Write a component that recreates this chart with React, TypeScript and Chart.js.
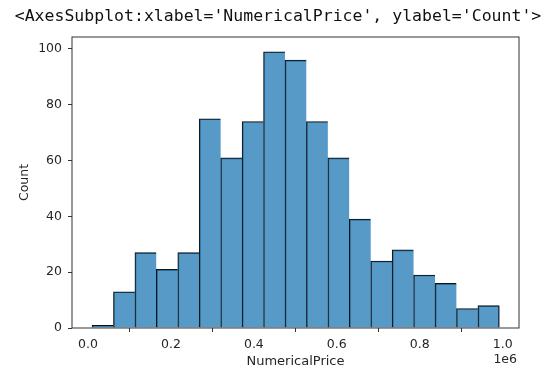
import { useEffect, useRef } from "react";
import { Chart, registerables } from "chart.js";

Chart.register(...registerables);

// Histogram bin edges (NumericalPrice) and counts per bin
const binEdges = [
  9700, 61400, 113100, 164800, 216500, 268200, 319900, 371600, 423300, 475000,
  526700, 578400, 630100, 681800, 733500, 785200, 836900, 888600, 940300, 992000,
];
const counts = [1, 13, 27, 21, 27, 75, 61, 74, 99, 96, 74, 61, 39, 24, 28, 19, 16, 7, 8];
const xTicks = [0, 200000, 400000, 600000, 800000, 1000000];
const yTicks = [0, 20, 40, 60, 80, 100];

const headerText = "<AxesSubplot:xlabel='NumericalPrice', ylabel='Count'>";
const xLabel = "NumericalPrice";
const yLabel = "Count";
const offsetText = "1e6";

const W = 555;
const H = 370;
const AXIS_COLOR = "#333";
const TEXT_COLOR = "#262626";
const TICK_FONT = { family: "'DejaVu Sans', sans-serif", size: 12.5 };
const LABEL_FONT = { family: "'DejaVu Sans', sans-serif", size: 13 };

const framePlugin = {
  id: "frame",
  afterDatasetsDraw(chart: any) {
    const { ctx, chartArea } = chart;
    const { left, right, top, bottom } = chartArea;
    ctx.save();
    ctx.strokeStyle = AXIS_COLOR;
    ctx.lineWidth = 1;
    ctx.strokeRect(left, top, right - left, bottom - top);
    ctx.restore();
  },
  afterDraw(chart: any) {
    const { ctx, chartArea } = chart;
    ctx.save();
    // header line above the axes
    ctx.fillStyle = "#111";
    ctx.font = "16.5px 'DejaVu Sans Mono', monospace";
    ctx.textAlign = "center";
    ctx.textBaseline = "middle";
    ctx.fillText(headerText, 278, 17);
    // scale offset text for the x axis
    ctx.fillStyle = TEXT_COLOR;
    ctx.font = "12.5px 'DejaVu Sans', sans-serif";
    ctx.textAlign = "right";
    ctx.fillText(offsetText, chartArea.right - 2, 360);
    ctx.restore();
  },
};

export default function App() {
  const canvasRef = useRef<HTMLCanvasElement | null>(null);

  useEffect(() => {
    const canvas = canvasRef.current;
    if (!canvas) return;
    const points = counts.map((c, i) => ({
      x: (binEdges[i] + binEdges[i + 1]) / 2,
      y: c,
    }));
    const last = counts.length - 1;
    const chart = new Chart(canvas, {
      type: "bar",
      data: {
        datasets: [
          {
            data: points as any,
            backgroundColor: "rgba(31,119,180,0.75)",
            borderColor: "#111",
            borderWidth: ((ctx: any) => ({
              top: 1,
              left: 1,
              right: ctx.dataIndex === last ? 1 : 0,
              bottom: 0,
            })) as any,
            borderSkipped: false,
            barPercentage: 1,
            categoryPercentage: 1,
          },
        ],
      },
      options: {
        responsive: false,
        animation: false,
        events: [],
        layout: { padding: { top: 37, right: 36, left: 0, bottom: 0 } },
        plugins: {
          legend: { display: false },
          tooltip: { enabled: false },
        },
        scales: {
          x: {
            type: "linear",
            min: -38600,
            max: 1039400,
            offset: false,
            afterFit(scale: any) {
              scale.height = 42;
            },
            afterBuildTicks(scale: any) {
              scale.ticks = xTicks.map((v) => ({ value: v }));
            },
            border: { display: false },
            grid: {
              drawOnChartArea: false,
              drawTicks: true,
              tickLength: 4,
              color: AXIS_COLOR,
            },
            ticks: {
              color: TEXT_COLOR,
              font: TICK_FONT,
              padding: 5,
              maxRotation: 0,
              autoSkip: false,
              callback: (v: any) => (Number(v) / 1e6).toFixed(1),
            },
            title: {
              display: true,
              text: xLabel,
              color: TEXT_COLOR,
              font: LABEL_FONT,
              padding: { top: 0, bottom: 1 },
            },
          },
          y: {
            type: "linear",
            min: 0,
            max: 104.3,
            afterFit(scale: any) {
              scale.width = 72;
            },
            afterBuildTicks(scale: any) {
              scale.ticks = yTicks.map((v) => ({ value: v }));
            },
            border: { display: false },
            grid: {
              drawOnChartArea: false,
              drawTicks: true,
              tickLength: 4,
              color: AXIS_COLOR,
            },
            ticks: {
              color: TEXT_COLOR,
              font: TICK_FONT,
              padding: 6,
              autoSkip: false,
            },
            title: {
              display: true,
              text: yLabel,
              color: TEXT_COLOR,
              font: TICK_FONT,
              padding: { top: 17, bottom: 0 },
            },
          },
        },
      },
      plugins: [framePlugin],
    });
    return () => chart.destroy();
  }, []);

  return (
    <div style={{ position: "absolute", left: 0, top: 0, width: W, height: H, background: "#fff" }}>
      <canvas ref={canvasRef} width={W} height={H} />
    </div>
  );
}
